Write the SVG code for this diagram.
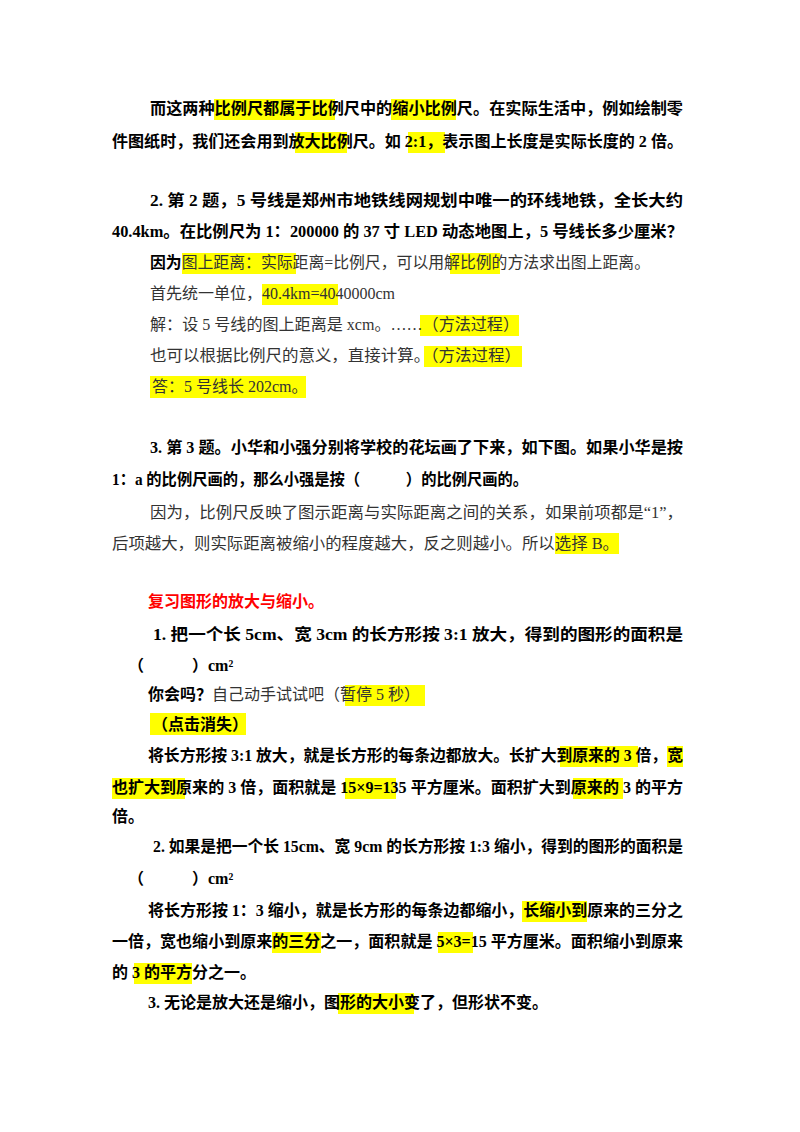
<svg xmlns="http://www.w3.org/2000/svg" width="800" height="1132" viewBox="0 0 800 1132">
<style>
text{font-family:"Liberation Serif","Noto Sans CJK SC",serif;font-size:16px;fill:#000}
.b{font-weight:bold}
.n{font-weight:normal;fill:#333}
.r{fill:#f00;font-weight:bold}
.h{fill:#ffff00}
</style>
<rect width="800" height="1132" fill="#fff"/>
<g id="highlights">
<rect class="h" x="214" y="99" width="121" height="21"/>
<rect class="h" x="391" y="99" width="65" height="21"/>
<rect class="h" x="295" y="132" width="52" height="21"/>
<rect class="h" x="408" y="132" width="37" height="21"/>
<rect class="h" x="182" y="253" width="114" height="21"/>
<rect class="h" x="450" y="253" width="50" height="21"/>
<rect class="h" x="262" y="284" width="76" height="21"/>
<rect class="h" x="420" y="315" width="99" height="21"/>
<rect class="h" x="424" y="346" width="98" height="21"/>
<rect class="h" x="150" y="376" width="156" height="22"/>
<rect class="h" x="555" y="533" width="64" height="21"/>
<rect class="h" x="345" y="685" width="80" height="21"/>
<rect class="h" x="150" y="713" width="96" height="22"/>
<rect class="h" x="560" y="746" width="78" height="21"/>
<rect class="h" x="667" y="746" width="16" height="21"/>
<rect class="h" x="112" y="778" width="73" height="21"/>
<rect class="h" x="345" y="778" width="51" height="21"/>
<rect class="h" x="573" y="778" width="50" height="21"/>
<rect class="h" x="522" y="901" width="65" height="21"/>
<rect class="h" x="272" y="932" width="49" height="21"/>
<rect class="h" x="438" y="932" width="35" height="21"/>
<rect class="h" x="134" y="963" width="58" height="21"/>
<rect class="h" x="338" y="993" width="76" height="21"/>
</g>
<g id="text">
<text class="b" x="150" y="114" textLength="533" lengthAdjust="spacingAndGlyphs">而这两种比例尺都属于比例尺中的缩小比例尺。在实际生活中，例如绘制零</text>
<text class="b" x="112" y="147" textLength="571" lengthAdjust="spacingAndGlyphs">件图纸时，我们还会用到放大比例尺。如 2:1，表示图上长度是实际长度的 2 倍。</text>
<text class="b" x="150" y="206" textLength="533" lengthAdjust="spacingAndGlyphs">2. 第 2 题，5 号线是郑州市地铁线网规划中唯一的环线地铁，全长大约</text>
<text class="b" x="112" y="237" textLength="571" lengthAdjust="spacingAndGlyphs">40.4km。在比例尺为 1：200000 的 37 寸 LED 动态地图上，5 号线长多少厘米？</text>
<text x="150" y="268" textLength="500" lengthAdjust="spacingAndGlyphs"><tspan class="b">因为</tspan><tspan class="n">图上距离：实际距离=比例尺，可以用解比例的方法求出图上距离。</tspan></text>
<text class="n" x="150" y="299">首先统一单位，40.4km=4040000cm</text>
<text class="n" x="150" y="330" textLength="369" lengthAdjust="spacingAndGlyphs">解：设 5 号线的图上距离是 xcm。……（方法过程）</text>
<text class="n" x="150" y="361" textLength="371" lengthAdjust="spacingAndGlyphs">也可以根据比例尺的意义，直接计算。（方法过程）</text>
<text class="n" x="152" y="392">答：5 号线长 202cm。</text>
<text class="b" x="150" y="453" textLength="533" lengthAdjust="spacingAndGlyphs">3. 第 3 题。小华和小强分别将学校的花坛画了下来，如下图。如果小华是按</text>
<text class="b" x="112" y="485" textLength="416" lengthAdjust="spacingAndGlyphs">1：a 的比例尺画的，那么小强是按（　　　）的比例尺画的。</text>
<text class="n" x="150" y="518" textLength="533" lengthAdjust="spacingAndGlyphs">因为，比例尺反映了图示距离与实际距离之间的关系，如果前项都是“1”，</text>
<text class="n" x="112" y="549" textLength="507" lengthAdjust="spacingAndGlyphs">后项越大，则实际距离被缩小的程度越大，反之则越小。所以选择 B。</text>
<text class="r" x="148" y="607">复习图形的放大与缩小。</text>
<text class="b" x="153" y="640" textLength="530" lengthAdjust="spacingAndGlyphs">1. 把一个长 5cm、宽 3cm 的长方形按 3:1 放大，得到的图形的面积是</text>
<text class="b" x="128" y="671">（　　　）cm²</text>
<text x="148" y="700"><tspan class="b">你会吗？</tspan><tspan class="n">自己动手试试吧（暂停 5 秒）</tspan></text>
<text class="b" x="152" y="730">（点击消失）</text>
<text class="b" x="148" y="761" textLength="535" lengthAdjust="spacingAndGlyphs">将长方形按 3:1 放大，就是长方形的每条边都放大。长扩大到原来的 3 倍，宽</text>
<text class="b" x="112" y="793" textLength="571" lengthAdjust="spacingAndGlyphs">也扩大到原来的 3 倍，面积就是 15×9=135 平方厘米。面积扩大到原来的 3 的平方</text>
<text class="b" x="112" y="822">倍。</text>
<text class="b" x="153" y="852" textLength="530" lengthAdjust="spacingAndGlyphs">2. 如果是把一个长 15cm、宽 9cm 的长方形按 1:3 缩小，得到的图形的面积是</text>
<text class="b" x="128" y="884">（　　　）cm²</text>
<text class="b" x="148" y="916" textLength="535" lengthAdjust="spacingAndGlyphs">将长方形按 1：3 缩小，就是长方形的每条边都缩小，长缩小到原来的三分之</text>
<text class="b" x="112" y="947" textLength="571" lengthAdjust="spacingAndGlyphs">一倍，宽也缩小到原来的三分之一，面积就是 5×3=15 平方厘米。面积缩小到原来</text>
<text class="b" x="112" y="978">的 3 的平方分之一。</text>
<text class="b" x="148" y="1008">3. 无论是放大还是缩小，图形的大小变了，但形状不变。</text>
</g>
</svg>
